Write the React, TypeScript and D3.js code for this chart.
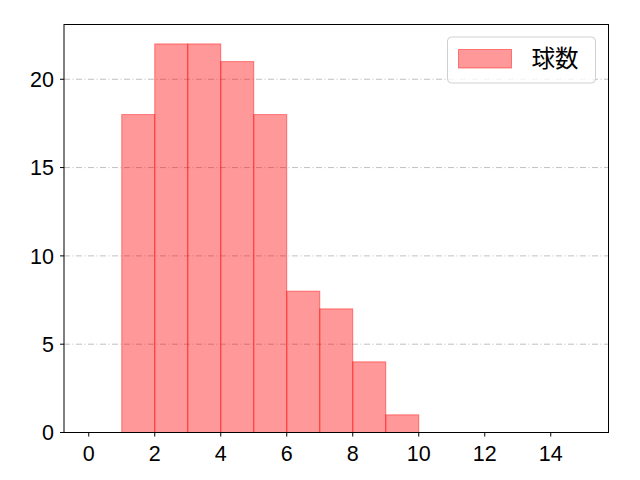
import React from "react";
import * as d3 from "d3";

// histogram bins (left edge) and counts
const binStarts = [1, 2, 3, 4, 5, 6, 7, 8, 9];
const counts = [18, 22, 22, 21, 18, 8, 7, 4, 1];
const xTicks = [0, 2, 4, 6, 8, 10, 12, 14];
const yTicks = [0, 5, 10, 15, 20];
const legendLabel = "球数";

const W = 640;
const H = 480;
const margin = { top: 24.5, right: 31.5, bottom: 47.5, left: 64 };
const tickFont = "'Liberation Sans', Arial, sans-serif";
const cjkFont = "'Noto Sans CJK JP', 'Noto Sans', sans-serif";

const App: React.FC = () => {
  const iw = W - margin.left - margin.right;
  const ih = H - margin.top - margin.bottom;

  const x = d3.scaleLinear().domain([-0.75, 15.75]).range([0, iw]);
  const y = d3.scaleLinear().domain([0, 23.1]).range([ih, 0]);

  return (
    <svg width={W} height={H} style={{ position: "absolute", left: 0, top: 0 }}>
      <rect width={W} height={H} fill="#fff" />
      <g transform={`translate(${margin.left},${margin.top})`}>
        {/* grid */}
        {yTicks.map(t => (
          <line
            key={"g" + t}
            x1={0}
            x2={iw}
            y1={y(t)}
            y2={y(t)}
            stroke="#b0b0b0"
            strokeWidth={0.8}
            strokeDasharray="6,2.5,1,2.5"
          />
        ))}
        {/* bars */}
        {binStarts.map((b, i) => (
          <rect
            key={"b" + i}
            x={x(b)}
            y={y(counts[i])}
            width={x(b + 1) - x(b)}
            height={ih - y(counts[i])}
            fill="red"
            fillOpacity={0.4}
            stroke="red"
            strokeOpacity={0.45}
            strokeWidth={1}
          />
        ))}
        {/* frame */}
        <rect x={0} y={0} width={iw} height={ih} fill="none" stroke="#000" strokeWidth={1} />
        {/* x ticks */}
        {xTicks.map(t => (
          <g key={"x" + t} transform={`translate(${x(t)},${ih})`}>
            <line y1={0} y2={4} stroke="#000" strokeWidth={1} />
            <text y={28} textAnchor="middle" fontSize={21.5} fontFamily={tickFont} fill="#000">
              {t}
            </text>
          </g>
        ))}
        {/* y ticks */}
        {yTicks.map(t => (
          <g key={"y" + t} transform={`translate(0,${y(t)})`}>
            <line x1={0} x2={-4} stroke="#000" strokeWidth={1} />
            <text x={-10} dy="0.36em" textAnchor="end" fontSize={21.5} fontFamily={tickFont} fill="#000">
              {t}
            </text>
          </g>
        ))}
        {/* legend */}
        <g transform={`translate(${iw - 161},12.5)`}>
          <rect x={0} y={0} width={148} height={46} rx={4} fill="#fff" fillOpacity={0.8} stroke="#d0d0d0" strokeWidth={1} />
          <rect x={11} y={12.5} width={53} height={18.5} fill="red" fillOpacity={0.4} stroke="red" strokeOpacity={0.45} />
          <text x={84} y={22} dy="0.36em" fontSize={23.5} fontFamily={cjkFont} fill="#000">
            {legendLabel}
          </text>
        </g>
      </g>
    </svg>
  );
};

export default App;
